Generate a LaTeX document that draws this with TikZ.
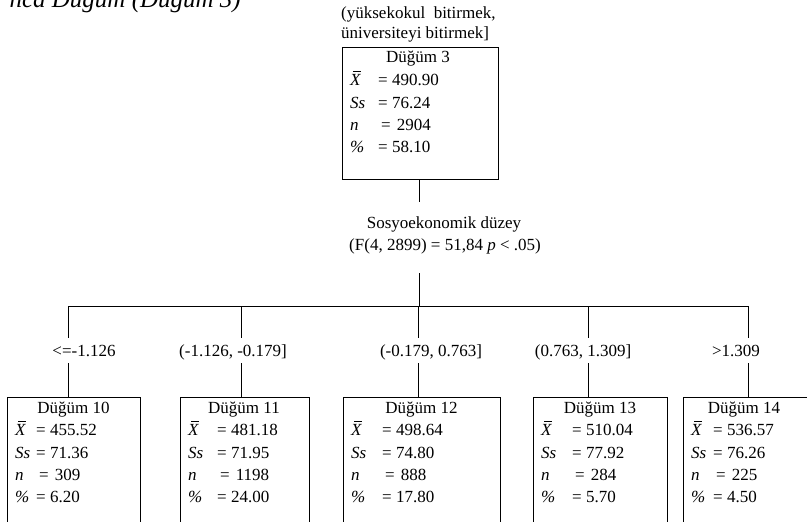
\documentclass[tikz,border=0pt]{standalone}
\usepackage{fontspec}
\setmainfont{Liberation Serif}
\newcommand{\xbarsym}{\textit{X}\llap{\raisebox{13.2pt}{\rule{7.5pt}{0.7pt}}\hspace{0.6pt}}}
\newcommand{\dgstats}[8]{%
  \node[txt,anchor=base west] (#1x) at (#2+8,#3+38) {\xbarsym};
  \node[txt,anchor=base west] (#1xv) at (#2+#4,#3+38) {= #5};
  \node[txt,anchor=base west] (#1s) at (#2+8,#3+61) {\textit{Ss}};
  \node[txt,anchor=base west] (#1sv) at (#2+#4,#3+61) {= #6};
  \node[txt,anchor=base west] (#1n) at (#2+8,#3+83) {\textit{n}};
  \node[txt,anchor=base west] (#1nv) at (#2+#4+3,#3+83) {=\hspace{6pt}#7};
  \node[txt,anchor=base west] (#1p) at (#2+8,#3+105) {\textit{\%}};
  \node[txt,anchor=base west] (#1pv) at (#2+#4,#3+105) {= #8};
}
\begin{document}
\begin{tikzpicture}[x=1pt,y=-1pt,
  txt/.style={inner sep=0pt,font=\fontsize{17}{20}\selectfont},
  boxs/.style={draw,line width=0.9pt,anchor=north west,inner sep=0pt},
  conn/.style={line width=0.9pt}]
\useasboundingbox (0,0) rectangle (807,522);
\clip (0,0) rectangle (807,522);
% title (cropped at top)
\node[inner sep=0pt,anchor=base east,font=\fontsize{25}{30}\selectfont\itshape] (title) at (241,8) {nca Düğüm (Düğüm 3)};
% parent
\node[txt,anchor=base west] (cond1) at (341,18) {(yüksekokul\ \ bitirmek,};
\node[txt,anchor=base west] (cond2) at (341,38) {üniversiteyi bitirmek]};
\node[boxs,minimum width=156pt,minimum height=132pt] (b3) at (342,47) {};
\node[txt,anchor=base] (h3) at (418,63) {Düğüm 3};
\dgstats{b3}{342}{47}{36}{490.90}{76.24}{2904}{58.10}
% split label
\node[txt,anchor=base] (sp1) at (444,228) {Sosyoekonomik düzey};
\node[txt,anchor=base] (sp2) at (445,250) {(F(4, 2899) = 51,84 \textit{p} < .05)};
\coordinate (s1) at (419,202);
\coordinate (s2) at (419,273);
\coordinate (hm) at (419,306);
\coordinate (hl) at (68,306);
\coordinate (hr) at (748,306);
\draw[conn] (b3.south -| s1) -- (s1);
\draw[conn] (s2) -- (hm);
\draw[conn] (hl) -- (hr);
% children boxes
\node[boxs,minimum width=133pt,minimum height=150pt] (b10) at (7,397) {};
\node[boxs,minimum width=129pt,minimum height=150pt] (b11) at (180,397) {};
\node[boxs,minimum width=157pt,minimum height=150pt] (b12) at (343,397) {};
\node[boxs,minimum width=134pt,minimum height=150pt] (b13) at (533,397) {};
\node[boxs,minimum width=134pt,minimum height=150pt] (b14) at (683,397) {};
\node[txt,anchor=base] (h10) at (73.5,413) {Düğüm 10};
\node[txt,anchor=base] (h11) at (244,413) {Düğüm 11};
\node[txt,anchor=base] (h12) at (421.5,413) {Düğüm 12};
\node[txt,anchor=base] (h13) at (600,413) {Düğüm 13};
\node[txt,anchor=base] (h14) at (744,413) {Düğüm 14};
\dgstats{b10}{7}{397}{29}{455.52}{71.36}{309}{6.20}
\dgstats{b11}{180}{397}{37}{481.18}{71.95}{1198}{24.00}
\dgstats{b12}{343}{397}{39}{498.64}{74.80}{888}{17.80}
\dgstats{b13}{533}{397}{39}{510.04}{77.92}{284}{5.70}
\dgstats{b14}{683}{397}{30}{536.57}{76.26}{225}{4.50}
% branch labels
\node[txt,anchor=base] (l10) at (84,356) {<=-1.126};
\node[txt,anchor=base] (l11) at (233,356) {(-1.126, -0.179]};
\node[txt,anchor=base] (l12) at (431,356) {(-0.179, 0.763]};
\node[txt,anchor=base] (l13) at (583,356) {(0.763, 1.309]};
\node[txt,anchor=base] (l14) at (736,356) {>1.309};
% branch connectors
\foreach \nm/\xx in {10/68,11/241,12/418,13/588,14/748}{
  \coordinate (ta\nm) at (\xx,306);
  \coordinate (tb\nm) at (\xx,338);
  \coordinate (tc\nm) at (\xx,363);
  \draw[conn] (ta\nm) -- (tb\nm);
  \draw[conn] (tc\nm) -- (tc\nm |- b\nm.north);
}
\end{tikzpicture}
\end{document}
